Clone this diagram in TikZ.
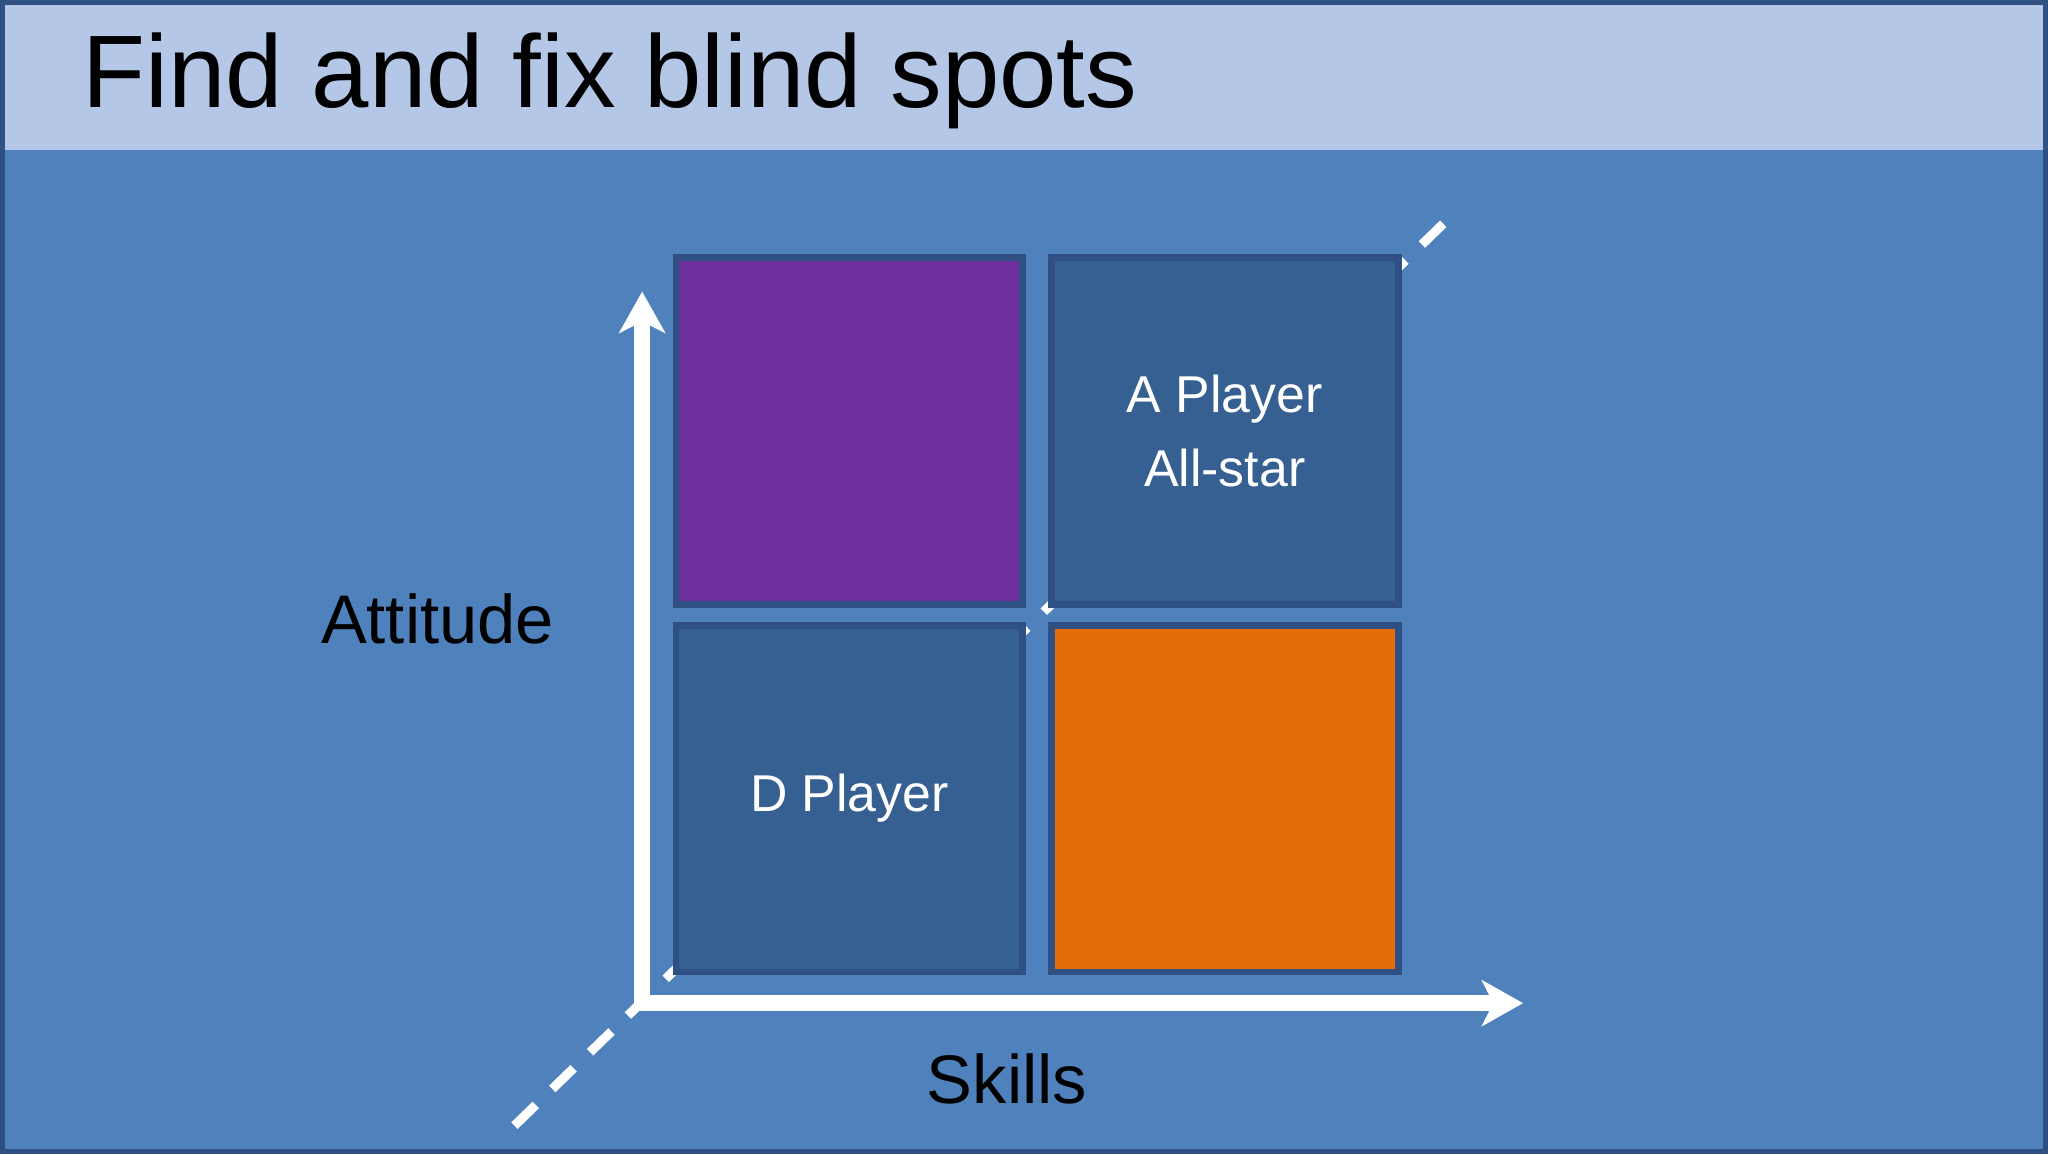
\documentclass[tikz,border=0pt]{standalone}
\usepackage{fontspec}
\setmainfont{Liberation Sans}
\usetikzlibrary{arrows.meta}
\definecolor{bg}{RGB}{79,129,189}
\definecolor{hd}{RGB}{180,199,231}
\definecolor{dk}{RGB}{55,96,146}
\definecolor{pu}{RGB}{112,48,160}
\definecolor{orng}{RGB}{228,108,10}
\definecolor{edge}{RGB}{47,80,130}
\begin{document}
\begin{tikzpicture}[x=0.01cm,y=-0.01cm,
  box/.style={draw=edge,line width=1.5pt,minimum width=2.66cm,minimum height=2.66cm,inner sep=0pt,text=white,font=\fontsize{11.3}{16}\selectfont,align=center},
  lbl/.style={font=\fontsize{15}{18}\selectfont,text=black},
  axis/.style={draw=white,line width=3.5pt,-{Stealth[length=9pt,width=10pt,inset=2.5pt]}}]
\fill[bg] (0,0) rectangle (1568,882);
\fill[hd] (0,0) rectangle (1568,113);
\draw[edge,line width=1pt] (0,0) rectangle (1568,882);
\node[anchor=west,inner sep=0pt,font=\fontsize{22.5}{26}\selectfont] (title) at (61,60) {Find and fix blind spots};
\coordinate (d1) at (393,862);
\coordinate (d2) at (1118,158);
\draw[white,line width=2pt,dash pattern=on 6.5pt off 5pt] (d1) -- (d2);
\node[box,fill=pu] (q1) at (650,329) {};
\node[box,fill=dk] (q2) at (938,329) {A Player\\All-star};
\node[box,fill=dk] (q3) at (650,611) {D Player};
\node[box,fill=orng] (q4) at (938,611) {};
\coordinate (o) at (491,768);
\coordinate (ytop) at (491,222);
\coordinate (xend) at (1167,768);
\draw[axis] (o) -- (ytop);
\draw[axis] ([xshift=-1.75pt]o) -- (xend);
\node[lbl] (att) at (334,473) {Attitude};
\node[lbl] (sk) at (771,826) {Skills};
\end{tikzpicture}
\end{document}
